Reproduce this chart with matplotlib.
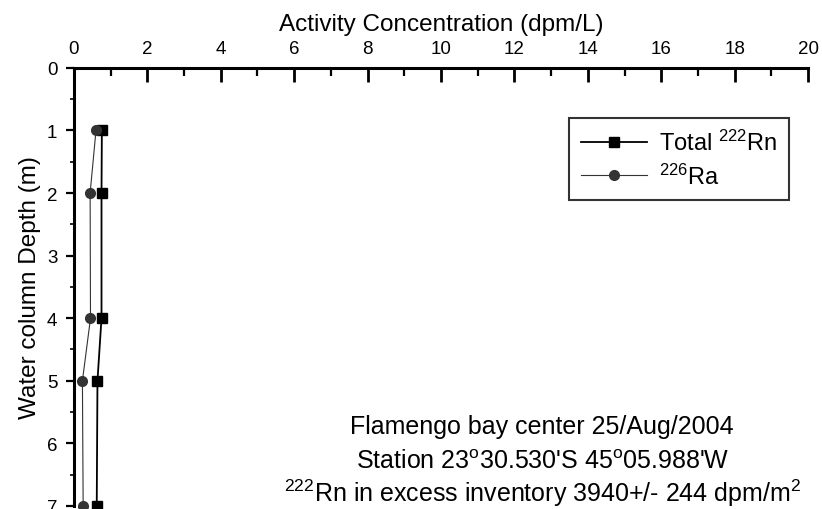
import matplotlib
matplotlib.use("Agg")
import matplotlib.pyplot as plt
from matplotlib.ticker import MultipleLocator

plt.rcParams['font.family'] = ['Liberation Sans', 'DejaVu Sans']
plt.rcParams['mathtext.fontset'] = 'custom'
plt.rcParams['mathtext.rm'] = 'Liberation Sans'
plt.rcParams['mathtext.it'] = 'Liberation Sans'

depth = [1, 2, 4, 5, 7]
rn_total = [0.76, 0.75, 0.75, 0.64, 0.62]
ra_226 = [0.60, 0.44, 0.45, 0.23, 0.25]

fig = plt.figure(figsize=(8.22, 5.10), dpi=100)
ax = fig.add_axes([0.090, 0.006, 0.893, 0.859])

ax.plot(rn_total, depth, color='black', lw=1.3, marker='s', ms=7,
        label=r'Total $^{222}$Rn', clip_on=False, zorder=3)
ax.plot(ra_226, depth, color='#333333', lw=0.8, marker='o', ms=7,
        label=r'$^{226}$Ra', clip_on=False, zorder=3)

ax.set_xlim(0, 20)
ax.set_ylim(7, 0)
ax.xaxis.tick_top()
ax.xaxis.set_label_position('top')
ax.xaxis.set_major_locator(MultipleLocator(2))
ax.xaxis.set_minor_locator(MultipleLocator(1))
ax.yaxis.set_major_locator(MultipleLocator(1))
ax.yaxis.set_minor_locator(MultipleLocator(0.5))

for s in ['right', 'bottom']:
    ax.spines[s].set_visible(False)
for s in ['top', 'left']:
    ax.spines[s].set_linewidth(2.2)

ax.tick_params(axis='x', which='major', direction='in', length=10, width=2,
               labelsize=13.5, pad=8)
ax.tick_params(axis='x', which='minor', direction='in', length=6, width=1.6)
ax.tick_params(axis='y', which='major', direction='out', length=6, width=1.6,
               labelsize=13.5, pad=6)
ax.tick_params(axis='y', which='minor', direction='out', length=3, width=1.2)

ax.set_xlabel('Activity Concentration (dpm/L)', fontsize=17.5, labelpad=7)
ax.set_ylabel('Water column Depth (m)', fontsize=17.5, labelpad=4)

leg = ax.legend(loc='upper right', bbox_to_anchor=(0.99, 0.912), fontsize=17,
                frameon=True, fancybox=False, edgecolor='black',
                handlelength=2.8, borderpad=0.5, labelspacing=0.35,
                handletextpad=0.5)
leg.get_frame().set_linewidth(1.5)

ax.text(0.638, 0.182, 'Flamengo bay center 25/Aug/2004', transform=ax.transAxes,
        ha='center', va='center', fontsize=18)
ax.text(0.638, 0.102, r"Station 23$^{o}$30.530'S 45$^{o}$05.988'W",
        transform=ax.transAxes, ha='center', va='center', fontsize=18)
ax.text(0.638, 0.032, r'$^{222}$Rn in excess inventory 3940+/- 244 dpm/m$^{2}$',
        transform=ax.transAxes, ha='center', va='center', fontsize=18)

fig.savefig('out.png', dpi=100)
